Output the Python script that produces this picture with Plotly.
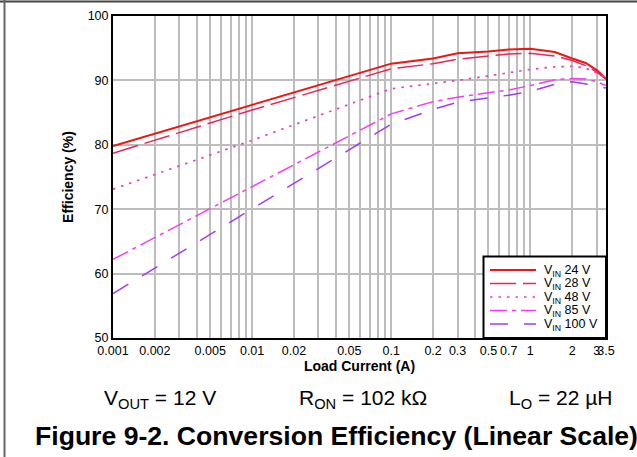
import plotly.graph_objects as go

# ---- data ----
load_current = [0.001, 0.01, 0.1, 0.2, 0.3, 0.5, 0.7, 1, 1.5, 2, 2.5, 3, 3.5]
eff_vin24 = [79.8, 86.2, 92.6, 93.4, 94.2, 94.5, 94.8, 94.9, 94.4, 93.4, 92.7, 91.6, 90.3]
eff_vin28 = [78.7, 85.4, 91.8, 92.6, 93.3, 93.8, 94.1, 94.2, 93.8, 93.1, 92.3, 91.3, 90.2]
eff_vin48 = [73.1, 80.7, 88.7, 89.5, 90.0, 90.7, 91.2, 91.7, 92.1, 92.2, 91.9, 91.1, 90.5]
eff_vin85 = [62.2, 73.5, 84.8, 86.7, 87.4, 88.1, 88.5, 89.2, 90.1, 90.3, 90.2, 89.8, 89.2]
eff_vin100 = [56.9, 70.0, 83.2, 85.5, 86.6, 87.3, 87.7, 88.3, 89.4, 89.8, 89.5, 89.2, 88.8]

series_names = ["V<sub>IN</sub> 24 V", "V<sub>IN</sub> 28 V", "V<sub>IN</sub> 48 V",
                "V<sub>IN</sub> 85 V", "V<sub>IN</sub> 100 V"]

x_tick_values = [0.001, 0.002, 0.005, 0.01, 0.02, 0.05, 0.1, 0.2, 0.3, 0.5, 0.7, 1, 2, 3, 3.5]
x_tick_labels = ["0.001", "0.002", "0.005", "0.01", "0.02", "0.05", "0.1", "0.2", "0.3",
                 "0.5", "0.7", "1", "2", "3", "3.5"]
x_minor_grid = [0.003, 0.004, 0.006, 0.007, 0.008, 0.009,
                0.03, 0.04, 0.06, 0.07, 0.08, 0.09,
                0.4, 0.6, 0.8, 0.9]
y_tick_values = [50, 60, 70, 80, 90, 100]

# ---- styles ----
colors = ["#f01414", "#e4285a", "#ee3cc4", "#f53cf5", "#a23cf0"]
dashes = ["solid", "26px,7px", "2.5px,6px", "17px,5px,4px,5px", "18px,16px"]
widths = [2.0, 1.5, 1.7, 1.5, 1.5]
series_values = [eff_vin24, eff_vin28, eff_vin48, eff_vin85, eff_vin100]

fig = go.Figure()
for name, vals, c, d, w in zip(series_names, series_values, colors, dashes, widths):
    fig.add_trace(go.Scatter(x=load_current, y=vals, mode="lines", name=name,
                             line=dict(color=c, dash=d, width=w), showlegend=False,
                             hoverinfo="skip"))

FONT = "Liberation Sans, Arial, sans-serif"
W, H = 637, 457
L, R, T, B = 113, 31, 16, 119
pw, ph = W - L - R, H - T - B

def px(xp):
    return (xp - L) / pw

def py(yp):
    return (H - B - yp) / ph

GRID = "#bdbdbd"
fig.update_layout(
    width=W, height=H,
    margin=dict(l=L, r=R, t=T, b=B, autoexpand=False),
    paper_bgcolor="white", plot_bgcolor="white",
    font=dict(family=FONT, size=12, color="black"),
    showlegend=False,
    xaxis=dict(type="log", range=[-3, 0.5441],
               tickmode="array", tickvals=x_tick_values, ticktext=x_tick_labels,
               tickangle=0, ticks="", showgrid=True, gridcolor=GRID, gridwidth=2,
               minor=dict(tickmode="array", tickvals=x_minor_grid, showgrid=True,
                          gridcolor=GRID, gridwidth=2, ticks=""),
               showline=True, linecolor="black", linewidth=2, mirror=True,
               zeroline=False, tickfont=dict(size=12.5), automargin=False,
               title=dict(text="<b>Load Current (A)</b>", font=dict(size=14), standoff=2)),
    yaxis=dict(range=[50, 100], tickmode="array", tickvals=y_tick_values,
               ticks="", showgrid=True, gridcolor=GRID, gridwidth=2,
               showline=True, linecolor="black", linewidth=2, mirror=True,
               zeroline=False, tickfont=dict(size=12.5), automargin=False,
               title=dict(text="<b>Efficiency (%)</b>", font=dict(size=14), standoff=11)),
)

# ---- legend box (drawn manually to match the compact reference layout) ----
fig.add_shape(type="rect", xref="paper", yref="paper",
              x0=px(483.5), x1=1.0, y0=0.0, y1=py(256.5),
              fillcolor="white", line=dict(color="black", width=2), layer="above")
row_y = [270, 283.5, 297, 310.5, 324]
for name, c, d, w, ry in zip(series_names, colors, dashes, widths, row_y):
    fig.add_shape(type="line", xref="paper", yref="paper",
                  x0=px(490), x1=px(536), y0=py(ry), y1=py(ry),
                  line=dict(color=c, dash=d, width=w), layer="above")
    fig.add_annotation(text=name, xref="paper", yref="paper", x=px(542), y=py(ry + 0.5),
                       xanchor="left", yanchor="middle", showarrow=False,
                       font=dict(family=FONT, size=12.5, color="black"))

# page border lines (top and left)
fig.add_shape(type="line", xref="paper", yref="paper",
              x0=px(0), x1=px(W), y0=py(1.5), y1=py(1.5),
              line=dict(color="#444444", width=2))
fig.add_shape(type="line", xref="paper", yref="paper",
              x0=px(4.5), x1=px(4.5), y0=py(0), y1=py(H),
              line=dict(color="#666666", width=2))

# condition annotations
cond = [("V<sub>OUT</sub> = 12 V", 160), ("R<sub>ON</sub> = 102 kΩ", 363), ("L<sub>O</sub> = 22 µH", 561)]
for txt, xc in cond:
    fig.add_annotation(text=txt, xref="paper", yref="paper", x=px(xc), y=py(399),
                       xanchor="center", yanchor="middle", showarrow=False,
                       font=dict(family=FONT, size=21, color="black"))

fig.add_annotation(text="<b>Figure 9-2. Conversion Efficiency (Linear Scale)</b>",
                   xref="paper", yref="paper", x=px(33), y=py(436),
                   xanchor="left", yanchor="middle", showarrow=False,
                   font=dict(family=FONT, size=26.6, color="black"))

fig.write_html("out.html", config={"displayModeBar": False, "staticPlot": True},
               post_script="document.body.style.margin='0px';document.body.style.overflow='hidden';")
